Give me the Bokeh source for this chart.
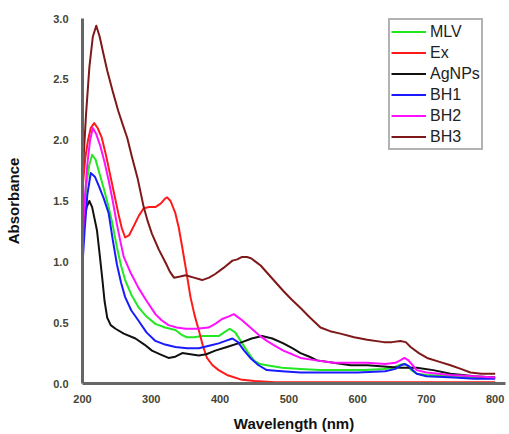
from bokeh.plotting import figure
from bokeh.models import Range1d, Legend, LegendItem, FixedTicker, CustomJSTickFormatter
from bokeh.embed import file_html
from bokeh.resources import INLINE

# Wavelength (nm) / absorbance values
mlv_x = [200, 203, 206, 210, 214, 219, 225, 231, 238, 244, 250, 256, 262, 271, 281, 293, 306, 320, 335, 344, 352, 362, 374, 386, 398, 406, 414, 422, 430, 440, 449, 458, 468, 490, 517, 545, 575, 610, 638, 652, 660, 666, 672, 678, 686, 700, 740, 770, 800]
mlv_y = [1.22, 1.45, 1.65, 1.80, 1.88, 1.84, 1.72, 1.60, 1.45, 1.30, 1.12, 0.97, 0.85, 0.73, 0.63, 0.55, 0.49, 0.46, 0.44, 0.40, 0.38, 0.38, 0.39, 0.39, 0.39, 0.42, 0.45, 0.42, 0.35, 0.26, 0.19, 0.16, 0.15, 0.13, 0.12, 0.11, 0.11, 0.11, 0.12, 0.13, 0.15, 0.16, 0.15, 0.11, 0.08, 0.07, 0.06, 0.05, 0.05]

ex_x = [200, 204, 208, 212, 217, 222, 228, 234, 240, 246, 252, 257, 262, 268, 275, 282, 289, 297, 306, 314, 320, 323, 328, 335, 340, 345, 351, 357, 363, 369, 375, 381, 389, 398, 410, 432, 450, 480, 550, 650, 800]
ex_y = [1.60, 1.85, 2.00, 2.10, 2.14, 2.10, 2.02, 1.88, 1.72, 1.56, 1.40, 1.28, 1.20, 1.22, 1.30, 1.38, 1.44, 1.45, 1.45, 1.48, 1.52, 1.53, 1.50, 1.40, 1.28, 1.12, 0.92, 0.71, 0.56, 0.44, 0.31, 0.21, 0.15, 0.11, 0.07, 0.03, 0.02, 0.01, 0.01, 0.01, 0.01]

ag_x = [200, 203, 206, 210, 214, 221, 225, 229, 232, 236, 241, 248, 260, 277, 290, 301, 313, 325, 335, 345, 357, 369, 380, 393, 410, 432, 446, 461, 476, 492, 505, 517, 530, 541, 565, 590, 614, 638, 662, 686, 710, 735, 770, 800]
ag_y = [1.25, 1.36, 1.45, 1.50, 1.45, 1.26, 1.06, 0.85, 0.68, 0.54, 0.48, 0.45, 0.41, 0.37, 0.32, 0.27, 0.24, 0.21, 0.22, 0.25, 0.24, 0.23, 0.24, 0.27, 0.30, 0.34, 0.37, 0.39, 0.37, 0.33, 0.29, 0.25, 0.22, 0.19, 0.17, 0.15, 0.15, 0.14, 0.13, 0.13, 0.11, 0.08, 0.06, 0.05]

bh1_x = [200, 203, 207, 212, 218, 224, 231, 238, 244, 250, 256, 262, 271, 281, 293, 306, 320, 335, 352, 369, 384, 398, 408, 418, 426, 435, 444, 456, 468, 490, 517, 560, 600, 640, 655, 663, 669, 675, 680, 686, 700, 740, 770, 800]
bh1_y = [0.98, 1.25, 1.55, 1.73, 1.70, 1.62, 1.52, 1.40, 1.18, 0.98, 0.83, 0.71, 0.60, 0.52, 0.42, 0.35, 0.32, 0.30, 0.29, 0.29, 0.31, 0.33, 0.35, 0.37, 0.34, 0.27, 0.21, 0.15, 0.11, 0.10, 0.09, 0.09, 0.09, 0.10, 0.12, 0.15, 0.16, 0.14, 0.11, 0.08, 0.06, 0.05, 0.04, 0.04]

bh2_x = [200, 203, 207, 211, 215, 220, 226, 232, 238, 244, 250, 255, 260, 270, 281, 293, 306, 315, 325, 337, 350, 366, 383, 393, 403, 412, 420, 432, 444, 456, 468, 480, 492, 505, 517, 540, 565, 590, 614, 640, 655, 662, 668, 674, 680, 686, 700, 735, 770, 800]
bh2_y = [1.15, 1.50, 1.80, 2.00, 2.10, 2.05, 1.95, 1.82, 1.67, 1.50, 1.31, 1.17, 1.04, 0.91, 0.79, 0.68, 0.57, 0.52, 0.48, 0.46, 0.45, 0.45, 0.46, 0.49, 0.53, 0.55, 0.57, 0.52, 0.46, 0.40, 0.35, 0.31, 0.27, 0.24, 0.21, 0.19, 0.17, 0.17, 0.17, 0.16, 0.17, 0.19, 0.21, 0.19, 0.15, 0.11, 0.09, 0.07, 0.06, 0.05]

bh3_x = [200, 205, 210, 215, 220, 225, 230, 236, 244, 252, 259, 265, 272, 280, 289, 295, 301, 311, 321, 327, 333, 342, 350, 362, 374, 384, 393, 405, 418, 425, 432, 439, 445, 452, 459, 470, 481, 492, 504, 517, 531, 546, 560, 575, 595, 614, 638, 650, 662, 670, 677, 689, 701, 718, 735, 750, 764, 780, 800]
bh3_y = [1.69, 2.20, 2.60, 2.85, 2.94, 2.85, 2.72, 2.57, 2.40, 2.24, 2.12, 2.02, 1.86, 1.69, 1.45, 1.33, 1.23, 1.10, 0.99, 0.92, 0.87, 0.88, 0.89, 0.87, 0.85, 0.87, 0.90, 0.95, 1.01, 1.02, 1.04, 1.04, 1.03, 1.00, 0.97, 0.90, 0.83, 0.76, 0.69, 0.62, 0.54, 0.46, 0.43, 0.41, 0.38, 0.36, 0.34, 0.34, 0.35, 0.34, 0.30, 0.25, 0.21, 0.18, 0.15, 0.12, 0.09, 0.08, 0.08]

names = ["MLV", "Ex", "AgNPs", "BH1", "BH2", "BH3"]
colors = ["#22e822", "#ff1a1a", "#111111", "#1a1aff", "#ff10ff", "#7f1818"]
series = [(mlv_x, mlv_y), (ex_x, ex_y), (ag_x, ag_y), (bh1_x, bh1_y), (bh2_x, bh2_y), (bh3_x, bh3_y)]

x_ticks = [200, 300, 400, 500, 600, 700, 800]
y_ticks = [0.0, 0.5, 1.0, 1.5, 2.0, 2.5, 3.0]

p = figure(width=509, height=434, output_backend="svg", toolbar_location=None,
           x_range=Range1d(200, 815), y_range=Range1d(0, 3.0),
           min_border_left=82, min_border_right=4, min_border_top=18, min_border_bottom=51)
p.outline_line_color = None
p.xgrid.grid_line_color = None
p.ygrid.grid_line_color = None

items = []
for (xs, ys), name, c in zip(series, names, colors):
    r = p.line(xs, ys, line_color=c, line_width=2, line_join="round")
    items.append(LegendItem(label=name, renderers=[r]))

for ax in (p.xaxis[0], p.yaxis[0]):
    ax.axis_line_color = "#666666"
    ax.axis_line_width = 3
    ax.major_tick_line_color = None
    ax.minor_tick_line_color = None
    ax.major_label_text_font = "Liberation Sans"
    ax.major_label_text_font_style = "bold"
    ax.major_label_text_font_size = "11px"
    ax.major_label_text_color = "#444433"
    ax.axis_label_text_font = "Liberation Sans"
    ax.axis_label_text_font_style = "bold"
    ax.axis_label_text_font_size = "15px"
    ax.axis_label_text_color = "#111111"

p.xaxis[0].ticker = FixedTicker(ticks=x_ticks)
p.yaxis[0].ticker = FixedTicker(ticks=y_ticks)
p.yaxis[0].formatter = CustomJSTickFormatter(code="return tick.toFixed(1);")
p.xaxis[0].axis_label = "Wavelength (nm)"
p.yaxis[0].axis_label = "Absorbance"
p.xaxis[0].major_label_standoff = 5
p.yaxis[0].major_label_standoff = 8
p.xaxis[0].axis_label_standoff = 9
p.yaxis[0].axis_label_standoff = 28

legend = Legend(items=items, location=(306, 233), glyph_width=35, glyph_height=21,
                label_height=21, spacing=0, label_standoff=4, padding=1, margin=0,
                label_text_font="Liberation Sans", label_text_font_size="16px",
                label_text_color="#222222", border_line_color="#666666",
                border_line_width=2, background_fill_alpha=1.0)
p.add_layout(legend)

open("out.html", "w").write(file_html(p, INLINE))
